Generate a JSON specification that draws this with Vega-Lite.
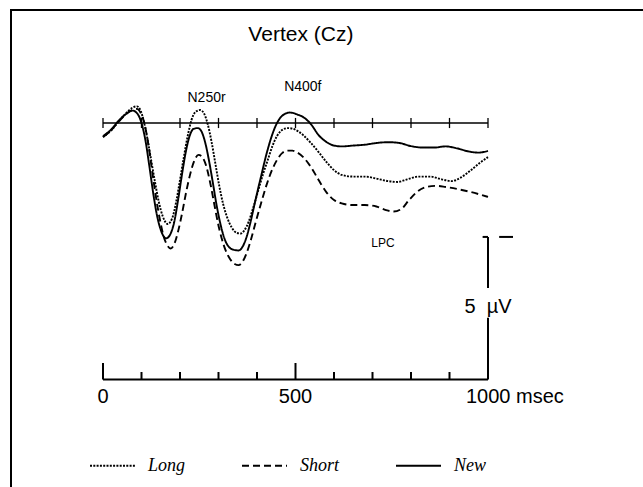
{
  "$schema": "https://vega.github.io/schema/vega-lite/v6.json",
  "width": 640,
  "height": 480,
  "autosize": "none",
  "padding": {"left": 11, "top": 10, "right": 0, "bottom": 0},
  "background": "white",
  "config": {
    "view": {"stroke": "black", "strokeWidth": 2},
    "axis": {"disable": true},
    "text": {"font": "Liberation Sans", "color": "black"}
  },
  "datasets": {
    "waves": [
      {"cond": "New", "t": 0, "amp": 0.46}, {"cond": "New", "t": 20, "amp": 0.25}, {"cond": "New", "t": 40, "amp": -0.07}, {"cond": "New", "t": 60, "amp": -0.32}, {"cond": "New", "t": 77, "amp": -0.44}, {"cond": "New", "t": 90, "amp": -0.32}, {"cond": "New", "t": 100, "amp": 0.0}, {"cond": "New", "t": 110, "amp": 0.6}, {"cond": "New", "t": 120, "amp": 1.49}, {"cond": "New", "t": 130, "amp": 2.45}, {"cond": "New", "t": 140, "amp": 3.26}, {"cond": "New", "t": 150, "amp": 3.79}, {"cond": "New", "t": 164, "amp": 4.09}, {"cond": "New", "t": 175, "amp": 3.94}, {"cond": "New", "t": 185, "amp": 3.51}, {"cond": "New", "t": 195, "amp": 2.73}, {"cond": "New", "t": 205, "amp": 1.84}, {"cond": "New", "t": 215, "amp": 1.03}, {"cond": "New", "t": 225, "amp": 0.46}, {"cond": "New", "t": 235, "amp": 0.21}, {"cond": "New", "t": 246, "amp": 0.18}, {"cond": "New", "t": 255, "amp": 0.28}, {"cond": "New", "t": 265, "amp": 0.67}, {"cond": "New", "t": 275, "amp": 1.31}, {"cond": "New", "t": 285, "amp": 2.09}, {"cond": "New", "t": 295, "amp": 2.91}, {"cond": "New", "t": 305, "amp": 3.58}, {"cond": "New", "t": 315, "amp": 4.08}, {"cond": "New", "t": 325, "amp": 4.36}, {"cond": "New", "t": 340, "amp": 4.5}, {"cond": "New", "t": 352, "amp": 4.52}, {"cond": "New", "t": 362, "amp": 4.4}, {"cond": "New", "t": 372, "amp": 4.08}, {"cond": "New", "t": 382, "amp": 3.58}, {"cond": "New", "t": 392, "amp": 2.98}, {"cond": "New", "t": 402, "amp": 2.38}, {"cond": "New", "t": 412, "amp": 1.81}, {"cond": "New", "t": 422, "amp": 1.24}, {"cond": "New", "t": 432, "amp": 0.74}, {"cond": "New", "t": 442, "amp": 0.32}, {"cond": "New", "t": 452, "amp": 0.0}, {"cond": "New", "t": 462, "amp": -0.21}, {"cond": "New", "t": 472, "amp": -0.32}, {"cond": "New", "t": 485, "amp": -0.37}, {"cond": "New", "t": 495, "amp": -0.35}, {"cond": "New", "t": 505, "amp": -0.3}, {"cond": "New", "t": 520, "amp": -0.21}, {"cond": "New", "t": 540, "amp": 0.04}, {"cond": "New", "t": 560, "amp": 0.43}, {"cond": "New", "t": 580, "amp": 0.67}, {"cond": "New", "t": 600, "amp": 0.8}, {"cond": "New", "t": 620, "amp": 0.83}, {"cond": "New", "t": 650, "amp": 0.8}, {"cond": "New", "t": 680, "amp": 0.77}, {"cond": "New", "t": 710, "amp": 0.71}, {"cond": "New", "t": 740, "amp": 0.68}, {"cond": "New", "t": 770, "amp": 0.71}, {"cond": "New", "t": 800, "amp": 0.82}, {"cond": "New", "t": 830, "amp": 0.87}, {"cond": "New", "t": 860, "amp": 0.87}, {"cond": "New", "t": 890, "amp": 0.83}, {"cond": "New", "t": 920, "amp": 0.9}, {"cond": "New", "t": 950, "amp": 1.01}, {"cond": "New", "t": 975, "amp": 1.05}, {"cond": "New", "t": 1000, "amp": 0.99},
      {"cond": "Long", "t": 0, "amp": 0.5}, {"cond": "Long", "t": 20, "amp": 0.28}, {"cond": "Long", "t": 40, "amp": -0.04}, {"cond": "Long", "t": 60, "amp": -0.35}, {"cond": "Long", "t": 75, "amp": -0.53}, {"cond": "Long", "t": 88, "amp": -0.59}, {"cond": "Long", "t": 98, "amp": -0.43}, {"cond": "Long", "t": 105, "amp": -0.11}, {"cond": "Long", "t": 115, "amp": 0.53}, {"cond": "Long", "t": 125, "amp": 1.31}, {"cond": "Long", "t": 135, "amp": 2.09}, {"cond": "Long", "t": 145, "amp": 2.8}, {"cond": "Long", "t": 155, "amp": 3.3}, {"cond": "Long", "t": 168, "amp": 3.58}, {"cond": "Long", "t": 180, "amp": 3.37}, {"cond": "Long", "t": 190, "amp": 2.8}, {"cond": "Long", "t": 200, "amp": 2.02}, {"cond": "Long", "t": 210, "amp": 1.21}, {"cond": "Long", "t": 220, "amp": 0.46}, {"cond": "Long", "t": 230, "amp": -0.11}, {"cond": "Long", "t": 240, "amp": -0.39}, {"cond": "Long", "t": 252, "amp": -0.46}, {"cond": "Long", "t": 262, "amp": -0.35}, {"cond": "Long", "t": 272, "amp": 0.04}, {"cond": "Long", "t": 282, "amp": 0.67}, {"cond": "Long", "t": 292, "amp": 1.45}, {"cond": "Long", "t": 302, "amp": 2.23}, {"cond": "Long", "t": 312, "amp": 2.87}, {"cond": "Long", "t": 322, "amp": 3.33}, {"cond": "Long", "t": 335, "amp": 3.72}, {"cond": "Long", "t": 348, "amp": 3.9}, {"cond": "Long", "t": 358, "amp": 3.92}, {"cond": "Long", "t": 368, "amp": 3.79}, {"cond": "Long", "t": 378, "amp": 3.51}, {"cond": "Long", "t": 390, "amp": 3.01}, {"cond": "Long", "t": 402, "amp": 2.45}, {"cond": "Long", "t": 415, "amp": 1.84}, {"cond": "Long", "t": 428, "amp": 1.31}, {"cond": "Long", "t": 440, "amp": 0.82}, {"cond": "Long", "t": 452, "amp": 0.46}, {"cond": "Long", "t": 465, "amp": 0.25}, {"cond": "Long", "t": 480, "amp": 0.18}, {"cond": "Long", "t": 492, "amp": 0.2}, {"cond": "Long", "t": 505, "amp": 0.28}, {"cond": "Long", "t": 520, "amp": 0.43}, {"cond": "Long", "t": 540, "amp": 0.71}, {"cond": "Long", "t": 560, "amp": 1.03}, {"cond": "Long", "t": 580, "amp": 1.38}, {"cond": "Long", "t": 600, "amp": 1.67}, {"cond": "Long", "t": 620, "amp": 1.84}, {"cond": "Long", "t": 650, "amp": 1.9}, {"cond": "Long", "t": 680, "amp": 1.9}, {"cond": "Long", "t": 710, "amp": 1.97}, {"cond": "Long", "t": 740, "amp": 2.06}, {"cond": "Long", "t": 765, "amp": 2.09}, {"cond": "Long", "t": 790, "amp": 2.0}, {"cond": "Long", "t": 820, "amp": 1.9}, {"cond": "Long", "t": 850, "amp": 1.9}, {"cond": "Long", "t": 880, "amp": 2.0}, {"cond": "Long", "t": 905, "amp": 2.06}, {"cond": "Long", "t": 930, "amp": 1.93}, {"cond": "Long", "t": 955, "amp": 1.68}, {"cond": "Long", "t": 980, "amp": 1.4}, {"cond": "Long", "t": 1000, "amp": 1.21},
      {"cond": "Short", "t": 0, "amp": 0.5}, {"cond": "Short", "t": 20, "amp": 0.27}, {"cond": "Short", "t": 40, "amp": -0.04}, {"cond": "Short", "t": 60, "amp": -0.32}, {"cond": "Short", "t": 75, "amp": -0.46}, {"cond": "Short", "t": 88, "amp": -0.5}, {"cond": "Short", "t": 98, "amp": -0.35}, {"cond": "Short", "t": 108, "amp": 0.04}, {"cond": "Short", "t": 118, "amp": 0.78}, {"cond": "Short", "t": 128, "amp": 1.74}, {"cond": "Short", "t": 138, "amp": 2.66}, {"cond": "Short", "t": 148, "amp": 3.44}, {"cond": "Short", "t": 158, "amp": 4.04}, {"cond": "Short", "t": 168, "amp": 4.36}, {"cond": "Short", "t": 176, "amp": 4.45}, {"cond": "Short", "t": 186, "amp": 4.26}, {"cond": "Short", "t": 196, "amp": 3.79}, {"cond": "Short", "t": 206, "amp": 3.16}, {"cond": "Short", "t": 216, "amp": 2.45}, {"cond": "Short", "t": 226, "amp": 1.84}, {"cond": "Short", "t": 236, "amp": 1.38}, {"cond": "Short", "t": 248, "amp": 1.13}, {"cond": "Short", "t": 258, "amp": 1.21}, {"cond": "Short", "t": 268, "amp": 1.52}, {"cond": "Short", "t": 278, "amp": 2.09}, {"cond": "Short", "t": 288, "amp": 2.8}, {"cond": "Short", "t": 298, "amp": 3.51}, {"cond": "Short", "t": 308, "amp": 4.08}, {"cond": "Short", "t": 318, "amp": 4.5}, {"cond": "Short", "t": 330, "amp": 4.82}, {"cond": "Short", "t": 342, "amp": 5.0}, {"cond": "Short", "t": 352, "amp": 5.04}, {"cond": "Short", "t": 362, "amp": 4.93}, {"cond": "Short", "t": 372, "amp": 4.65}, {"cond": "Short", "t": 384, "amp": 4.15}, {"cond": "Short", "t": 396, "amp": 3.55}, {"cond": "Short", "t": 410, "amp": 2.87}, {"cond": "Short", "t": 424, "amp": 2.23}, {"cond": "Short", "t": 438, "amp": 1.7}, {"cond": "Short", "t": 452, "amp": 1.31}, {"cond": "Short", "t": 466, "amp": 1.06}, {"cond": "Short", "t": 480, "amp": 0.98}, {"cond": "Short", "t": 492, "amp": 0.98}, {"cond": "Short", "t": 505, "amp": 1.05}, {"cond": "Short", "t": 520, "amp": 1.21}, {"cond": "Short", "t": 540, "amp": 1.56}, {"cond": "Short", "t": 560, "amp": 2.02}, {"cond": "Short", "t": 580, "amp": 2.45}, {"cond": "Short", "t": 600, "amp": 2.73}, {"cond": "Short", "t": 620, "amp": 2.85}, {"cond": "Short", "t": 650, "amp": 2.91}, {"cond": "Short", "t": 680, "amp": 2.91}, {"cond": "Short", "t": 710, "amp": 2.96}, {"cond": "Short", "t": 735, "amp": 3.09}, {"cond": "Short", "t": 755, "amp": 3.14}, {"cond": "Short", "t": 775, "amp": 3.05}, {"cond": "Short", "t": 795, "amp": 2.73}, {"cond": "Short", "t": 815, "amp": 2.45}, {"cond": "Short", "t": 840, "amp": 2.27}, {"cond": "Short", "t": 865, "amp": 2.23}, {"cond": "Short", "t": 890, "amp": 2.27}, {"cond": "Short", "t": 920, "amp": 2.34}, {"cond": "Short", "t": 950, "amp": 2.43}, {"cond": "Short", "t": 975, "amp": 2.52}, {"cond": "Short", "t": 1000, "amp": 2.62}
    ],
    "allTicks": [{"t": 0}, {"t": 100}, {"t": 200}, {"t": 300}, {"t": 400}, {"t": 500}, {"t": 600}, {"t": 700}, {"t": 800}, {"t": 900}, {"t": 1000}],
    "majorTicks": [{"t": 0, "label": "0"}, {"t": 500, "label": "500"}],
    "minorTicks": [{"t": 100}, {"t": 200}, {"t": 300}, {"t": 400}, {"t": 600}, {"t": 700}, {"t": 800}, {"t": 900}],
    "one": [{}]
  },
  "layer": [
    {
      "data": {"name": "waves"},
      "mark": {"type": "line", "interpolate": "monotone", "color": "black", "strokeWidth": 1.9},
      "encoding": {
        "x": {"field": "t", "type": "quantitative", "axis": null, "scale": {"domain": [0, 1000], "range": [92, 477], "nice": false, "zero": false}},
        "y": {"field": "amp", "type": "quantitative", "axis": null, "scale": {"domain": [0, 5], "range": [113, 254], "nice": false, "zero": false}},
        "strokeDash": {
          "field": "cond", "type": "nominal",
          "scale": {"domain": ["Long", "Short", "New"], "range": [[2, 1.3], [7, 4], [1, 0]]},
          "legend": {
            "title": null, "orient": "none", "direction": "horizontal",
            "legendX": 78, "legendY": 432, "padding": 0,
            "symbolType": "stroke", "symbolSize": 2025, "symbolStrokeWidth": 2, "symbolStrokeColor": "black",
            "labelFont": "Liberation Serif", "labelFontStyle": "italic", "labelFontSize": 18, "labelColor": "black",
            "labelOffset": 12, "columnPadding": 52
          }
        }
      }
    },
    {
      "data": {"name": "one"},
      "mark": {"type": "rule", "color": "black", "strokeWidth": 1.3},
      "encoding": {"x": {"datum": 0, "type": "quantitative"}, "x2": {"datum": 1000}, "y": {"datum": 0, "type": "quantitative"}}
    },
    {
      "data": {"name": "allTicks"},
      "mark": {"type": "rule", "color": "black", "strokeWidth": 1.3},
      "encoding": {"x": {"field": "t", "type": "quantitative"}, "y": {"datum": -0.18, "type": "quantitative"}, "y2": {"datum": 0.18}}
    },
    {
      "data": {"name": "one"},
      "mark": {"type": "rule", "color": "black", "strokeWidth": 2},
      "encoding": {"x": {"datum": 0, "type": "quantitative"}, "x2": {"datum": 1000}, "y": {"datum": 9.095, "type": "quantitative"}}
    },
    {
      "data": {"name": "majorTicks"},
      "mark": {"type": "rule", "color": "black", "strokeWidth": 2},
      "encoding": {"x": {"field": "t", "type": "quantitative"}, "y": {"datum": 8.51, "type": "quantitative"}, "y2": {"datum": 9.095}}
    },
    {
      "data": {"name": "minorTicks"},
      "mark": {"type": "rule", "color": "black", "strokeWidth": 2},
      "encoding": {"x": {"field": "t", "type": "quantitative"}, "y": {"datum": 8.83, "type": "quantitative"}, "y2": {"datum": 9.095}}
    },
    {
      "data": {"name": "one"},
      "mark": {"type": "rule", "color": "black", "strokeWidth": 2},
      "encoding": {"x": {"datum": 1000, "type": "quantitative"}, "y": {"datum": 4.04, "type": "quantitative"}, "y2": {"datum": 5.85}}
    },
    {
      "data": {"name": "one"},
      "mark": {"type": "rule", "color": "black", "strokeWidth": 2},
      "encoding": {"x": {"datum": 1000, "type": "quantitative"}, "y": {"datum": 6.91, "type": "quantitative"}, "y2": {"datum": 9.095}}
    },
    {
      "data": {"name": "one"},
      "mark": {"type": "rule", "color": "black", "strokeWidth": 2},
      "encoding": {"x": {"datum": 986, "type": "quantitative"}, "x2": {"datum": 1000}, "y": {"datum": 4.04, "type": "quantitative"}}
    },
    {
      "data": {"name": "one"},
      "mark": {"type": "rule", "color": "black", "strokeWidth": 2},
      "encoding": {"x": {"datum": 1029, "type": "quantitative"}, "x2": {"datum": 1065}, "y": {"datum": 4.04, "type": "quantitative"}}
    },
    {
      "data": {"name": "majorTicks"},
      "mark": {"type": "text", "fontSize": 20, "align": "center", "baseline": "alphabetic"},
      "encoding": {"x": {"field": "t", "type": "quantitative"}, "y": {"datum": 9.93, "type": "quantitative"}, "text": {"field": "label"}}
    },
    {
      "data": {"name": "one"},
      "mark": {"type": "text", "fontSize": 20, "align": "left", "baseline": "alphabetic", "dx": -22},
      "encoding": {"x": {"datum": 1000, "type": "quantitative"}, "y": {"datum": 9.93, "type": "quantitative"}, "text": {"value": "1000 msec"}}
    },
    {
      "data": {"name": "one"},
      "mark": {"type": "text", "fontSize": 20, "align": "center", "baseline": "alphabetic"},
      "encoding": {"x": {"datum": 1000, "type": "quantitative"}, "y": {"datum": 6.74, "type": "quantitative"}, "text": {"value": "5 \u00a0µV"}}
    },
    {
      "data": {"name": "one"},
      "mark": {"type": "text", "fontSize": 21, "align": "center", "baseline": "alphabetic"},
      "encoding": {"x": {"datum": 514, "type": "quantitative"}, "y": {"datum": -2.91, "type": "quantitative"}, "text": {"value": "Vertex (Cz)"}}
    },
    {
      "data": {"name": "one"},
      "mark": {"type": "text", "fontSize": 14, "align": "center", "baseline": "alphabetic"},
      "encoding": {"x": {"datum": 269, "type": "quantitative"}, "y": {"datum": -0.755, "type": "quantitative"}, "text": {"value": "N250r"}}
    },
    {
      "data": {"name": "one"},
      "mark": {"type": "text", "fontSize": 14, "align": "center", "baseline": "alphabetic"},
      "encoding": {"x": {"datum": 519, "type": "quantitative"}, "y": {"datum": -1.13, "type": "quantitative"}, "text": {"value": "N400f"}}
    },
    {
      "data": {"name": "one"},
      "mark": {"type": "text", "fontSize": 12, "align": "center", "baseline": "alphabetic"},
      "encoding": {"x": {"datum": 727, "type": "quantitative"}, "y": {"datum": 4.39, "type": "quantitative"}, "text": {"value": "LPC"}}
    }
  ]
}
